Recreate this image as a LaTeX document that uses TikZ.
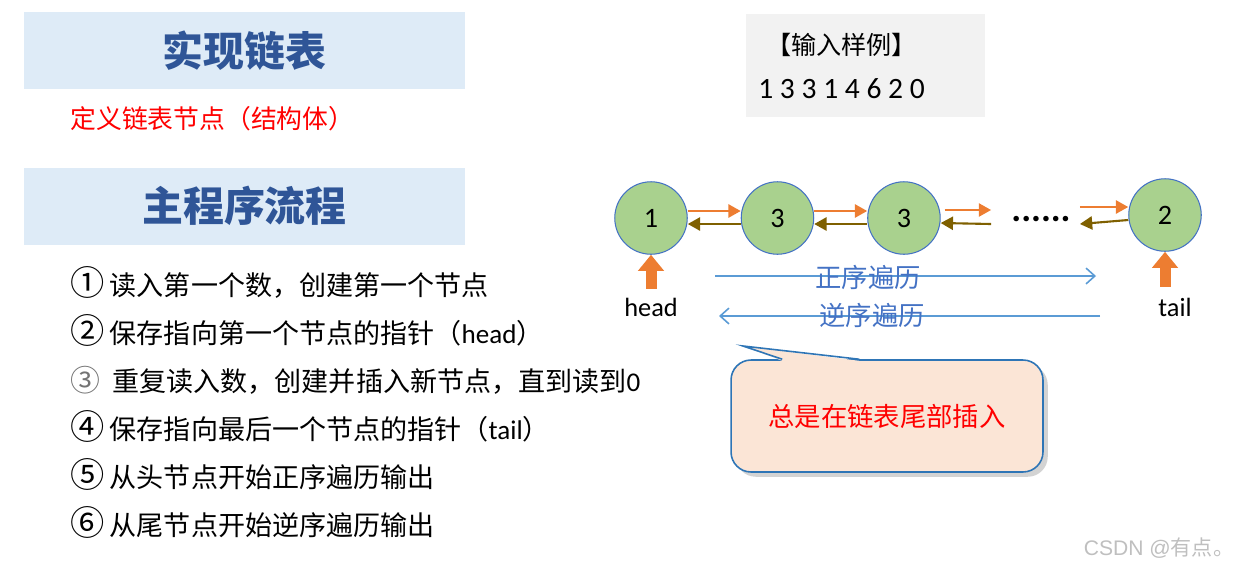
\documentclass[tikz,border=0pt]{standalone}
\usepackage{fontspec}
\setmainfont{Noto Sans CJK SC}
\newfontfamily\lat{Carlito}
\newfontfamily\wm{Liberation Sans}
\usepackage{tikz}
\usetikzlibrary{arrows.meta}
\usetikzlibrary{calc}
\usetikzlibrary{shadows}

\definecolor{titlebg}{HTML}{DEEBF7}
\definecolor{titlefg}{HTML}{2F5597}
\definecolor{inbg}{HTML}{F2F2F2}
\definecolor{nodefill}{HTML}{A9D18E}
\definecolor{nodeline}{HTML}{4472C4}
\definecolor{fwdc}{HTML}{ED7D31}
\definecolor{bwdc}{HTML}{7F6000}
\definecolor{travc}{HTML}{5B9BD5}
\definecolor{travtext}{HTML}{4472C4}
\definecolor{callfill}{HTML}{FBE5D6}
\definecolor{callline}{HTML}{2E75B6}

\begin{document}
\begin{tikzpicture}[x=0.02cm,y=-0.02cm,inner sep=0pt,node distance=2.53cm,
  >={Triangle[length=7pt,width=7.5pt]},
  title/.style={fill=titlebg,minimum width=8.82cm,minimum height=1.54cm,text=titlefg,font=\fontsize{23.3}{26}\selectfont\bfseries},
  item/.style={anchor=base west,font=\fontsize{15.4}{18}\selectfont},
  lnode/.style={draw=nodeline,fill=nodefill,circle,minimum size=1.45cm,line width=0.6pt,font=\lat\fontsize{16}{18}\selectfont},
  fwd/.style={->,draw=fwdc,line width=1.2pt},
  bwd/.style={->,draw=bwdc,line width=1.2pt},
  ptr/.style={-{Triangle[length=0.32cm,width=0.5cm]},draw=fwdc,line width=0.22cm},
  trav/.style={-{Straight Barb[length=5pt,width=9pt]},draw=travc,line width=0.9pt},
  travlbl/.style={text=travtext,font=\fontsize{15}{18}\selectfont},
  ptrlbl/.style={font=\lat\fontsize{15}{18}\selectfont}]
\useasboundingbox (0,0) rectangle (1250,569);

% left column
\node [title] (T1) at (244.5,50.5) {实现链表};
\node [anchor=west,text=red,font=\fontsize{14.7}{18}\selectfont] (DEF) at (70,119) {定义链表节点（结构体）};
\node [title] (T2) at (244.5,206) {主程序流程};
\node [item] (S1) at (70,295) {{\fontsize{19.5}{20}\selectfont ①}\hspace{3pt}读入第一个数，创建第一个节点};
\node [item] (S2) at (70,343) {{\fontsize{19.5}{20}\selectfont ②}\hspace{3pt}保存指向第一个节点的指针（{\lat head}）};
\node [item] (S3) at (70,391) {{\fontsize{17}{20}\selectfont\color{black!55}③}\hspace{7pt}重复读入数，创建并插入新节点，直到读到{\lat 0}};
\node [item] (S4) at (70,439) {{\fontsize{19.5}{20}\selectfont ④}\hspace{3pt}保存指向最后一个节点的指针（{\lat tail}）};
\node [item] (S5) at (70,487) {{\fontsize{19.5}{20}\selectfont ⑤}\hspace{3pt}从头节点开始正序遍历输出};
\node [item] (S6) at (70,535) {{\fontsize{19.5}{20}\selectfont ⑥}\hspace{3pt}从尾节点开始逆序遍历输出};

% sample input
\node [fill=inbg,minimum width=4.78cm,minimum height=2.06cm] (IN) at (865.5,65.5) {};
\node [anchor=west,font=\fontsize{14.3}{18}\selectfont] (INT) at (766,45) {【输入样例】};
\node [anchor=west,font=\lat\fontsize{16.8}{18}\selectfont] (IND) at (758,89) {1 3 3 1 4 6 2 0};

% the list
\node [lnode] (N1) at (651,218) {1};
\node [lnode,right of=N1] (N2) {3};
\node [lnode,right of=N2] (N3) {3};
\node [font=\lat\bfseries\fontsize{21}{21}\selectfont] (D) at (1041,219) {......};
\node [lnode] (N4) at (1165,215) {2};

\draw [fwd] ($(N1.east)+(0,-7)$) -- ($(N2.west)+(0,-7)$);
\draw [bwd] ($(N2.west)+(0,6)$) -- ($(N1.east)+(0,6)$);
\draw [fwd] ($(N2.east)+(0,-7)$) -- ($(N3.west)+(0,-7)$);
\draw [bwd] ($(N3.west)+(0,6)$) -- ($(N2.east)+(0,6)$);
\draw [fwd] ($(N3.east)+(4,-8)$) -- ($(D.west)+(-20,-9)$);
\draw [bwd] ($(D.west)+(-20,5)$) -- ($(N3.east)+(0,5)$);
\draw [fwd] ($(D.east)+(9,-12)$) -- ($(N4.west)+(0,-8)$);
\draw [bwd] ($(N4.west)+(0,5)$) -- ($(D.east)+(9,5)$);

% head and tail
\node [ptrlbl] (HD) at (651,307) {head};
\node [ptrlbl] (TL) at (1175,307) {tail};
\draw [ptr] ($(N1.south)+(0,34)$) -- (N1.south);
\draw [ptr] ($(N4.south)+(0,35)$) -- (N4.south);

% traversal
\coordinate (F1) at (715,276);
\coordinate (F2) at (1096,276);
\coordinate (B1) at (1100,316);
\coordinate (B2) at (719,316);
\draw [trav] (F1) -- (F2);
\draw [trav] (B1) -- (B2);
\node [travlbl] (FL) at (868,277) {正序遍历};
\node [travlbl] (BL) at (872,315) {逆序遍历};

% callout
\node [draw=callline,fill=callfill,line width=0.9pt,rounded corners=0.4cm,
  minimum width=6.24cm,minimum height=2.24cm,drop shadow={opacity=0.35},
  text=red,font=\fontsize{15}{18}\selectfont] (C) at (887,416) {总是在链表尾部插入};
\coordinate (TIP) at (743,346);
\fill [callfill] ($(C.north west)+(52,1.6)$) -- (TIP) -- ($(C.north west)+(129,1.6)$) -- cycle;
\draw [callline,line width=0.9pt] ($(C.north west)+(52,0)$) -- (TIP) -- ($(C.north west)+(129,0)$);

\node [text=black!25,font=\fontsize{12}{14}\selectfont] (WM) at (1159,548) {{\wm CSDN @}有点。};
\end{tikzpicture}
\end{document}
